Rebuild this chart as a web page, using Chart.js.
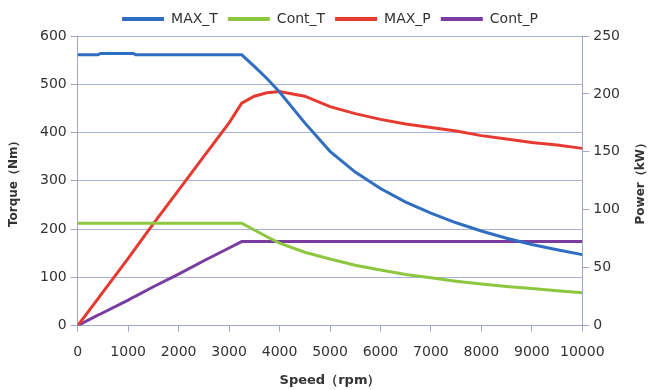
<!DOCTYPE html>
<html>
<head>
<meta charset="utf-8">
<script src="https://cdn.jsdelivr.net/npm/chart.js@4/dist/chart.umd.min.js"></script>
<style>
html,body{margin:0;padding:0;background:#fff;}
#wrap{width:651px;height:390px;position:relative;}
</style>
</head>
<body>
<div id="wrap"><canvas id="c" width="651" height="390"></canvas></div>
<script>
// Speed (rpm) sample points
const rpm = [0, 400, 450, 1000, 1100, 1150, 1500, 2000, 2500, 3000, 3250, 3500, 3750, 4000, 4500, 5000, 5500, 6000, 6500, 7000, 7500, 8000, 8500, 9000, 9500, 10000];
// Torque series (Nm, left axis)
const maxT  = [561, 561, 564, 564, 564, 561, 561, 561, 561, 561, 561, 537, 512, 484, 420, 361, 318, 284, 256, 233, 213, 196, 181, 168, 157, 147];
const contT = [212, 212, 212, 212, 212, 212, 212, 212, 212, 212, 212, 198, 184, 171, 152, 138, 125, 115, 106, 99, 92, 86, 81, 77, 72, 68];
// Power series (kW, right axis)
const maxP  = [0, 23, 26, 58, 64, 67, 88, 117, 146, 175, 192, 198, 201, 202, 198, 189, 183, 178, 174, 171, 168, 164, 161, 158, 156, 153];
const contP = [0, 9, 10, 22, 24.5, 25.5, 33.5, 44.5, 56, 67, 72.5, 72.5, 72.5, 72.5, 72.5, 72.5, 72.5, 72.5, 72.5, 72.5, 72.5, 72.5, 72.5, 72.5, 72.5, 72.5];
// Legend / axis texts
const seriesNames = ['MAX_T', 'Cont_T', 'MAX_P', 'Cont_P'];
const xTitle = 'Speed（rpm）';
const yLeftTitle = 'Torque（Nm）';
const yRightTitle = 'Power（kW）';
const xTicks = [0, 1000, 2000, 3000, 4000, 5000, 6000, 7000, 8000, 9000, 10000];
const yLeftTicks = [0, 100, 200, 300, 400, 500, 600];
const yRightTicks = [0, 50, 100, 150, 200, 250];

const colors = ['#2f6ec0', '#8dc63f', '#e63a30', '#7a3d9f'];
const FONT = 'DejaVu Sans';
const pts = arr => rpm.map((x, i) => ({x: x, y: arr[i]}));

const sideTitles = {
  id: 'sideTitles',
  afterDraw(chart) {
    const ctx = chart.ctx, ca = chart.chartArea;
    const cy = (ca.top + ca.bottom) / 2;
    [[yLeftTitle, 14], [yRightTitle, 641]].forEach(([t, x]) => {
      ctx.save();
      ctx.fillStyle = '#333';
      ctx.font = 'bold 12px "' + FONT + '"';
      ctx.textAlign = 'center';
      ctx.textBaseline = 'middle';
      ctx.translate(x, cy);
      ctx.rotate(-Math.PI / 2);
      ctx.fillText(t, 0, 0);
      ctx.restore();
    });
  }
};

new Chart(document.getElementById('c'), {
  type: 'line',
  data: {
    datasets: [
      {label: seriesNames[0], data: pts(maxT),  yAxisID: 'y',  borderColor: colors[0], backgroundColor: colors[0]},
      {label: seriesNames[1], data: pts(contT), yAxisID: 'y',  borderColor: colors[1], backgroundColor: colors[1]},
      {label: seriesNames[2], data: pts(maxP),  yAxisID: 'y1', borderColor: colors[2], backgroundColor: colors[2]},
      {label: seriesNames[3], data: pts(contP), yAxisID: 'y1', borderColor: colors[3], backgroundColor: colors[3]}
    ]
  },
  options: {
    responsive: false,
    animation: false,
    devicePixelRatio: 1,
    elements: {line: {borderWidth: 3, tension: 0}, point: {radius: 0}},
    layout: {padding: {left: 36, right: 27, top: 2, bottom: 2}},
    plugins: {
      legend: {
        position: 'top',
        align: 'center',
        labels: {
          boxWidth: 42,
          boxHeight: 4,
          padding: 10,
          color: '#333',
          font: {family: FONT, size: 14},
          generateLabels(chart) {
            return chart.data.datasets.map((d, i) => ({
              text: d.label, fillStyle: d.borderColor, strokeStyle: d.borderColor,
              lineWidth: 0, hidden: false, datasetIndex: i, fontColor: '#333'
            }));
          }
        }
      },
      tooltip: {enabled: false}
    },
    scales: {
      x: {
        type: 'linear',
        min: 0, max: 10000,
        afterBuildTicks: s => { s.ticks = xTicks.map(v => ({value: v})); },
        ticks: {color: '#333', font: {family: FONT, size: 14}, padding: 12, maxRotation: 0, autoSkip: false, callback: v => String(v)},
        grid: {drawOnChartArea: false, drawTicks: true, tickLength: 6, color: '#9ea6cc'},
        border: {color: '#9ea6cc', width: 1},
        title: {display: true, text: xTitle, color: '#333', font: {family: FONT, size: 13, weight: 'bold'}, padding: {top: 0, bottom: 0}}
      },
      y: {
        position: 'left',
        min: 0, max: 600,
        afterBuildTicks: s => { s.ticks = yLeftTicks.map(v => ({value: v})); },
        ticks: {color: '#333', font: {family: FONT, size: 14}, padding: 4, callback: v => String(v)},
        grid: {color: '#a7b1d9', tickLength: 7, tickColor: '#9ea6cc'},
        border: {color: '#9ea6cc', width: 1}
      },
      y1: {
        position: 'right',
        min: 0, max: 250,
        afterBuildTicks: s => { s.ticks = yRightTicks.map(v => ({value: v})); },
        ticks: {color: '#333', font: {family: FONT, size: 14}, padding: 4, callback: v => String(v)},
        grid: {drawOnChartArea: false, tickLength: 7, color: '#9ea6cc'},
        border: {color: '#9ea6cc', width: 1}
      }
    }
  },
  plugins: [sideTitles]
});
</script>
</body>
</html>
